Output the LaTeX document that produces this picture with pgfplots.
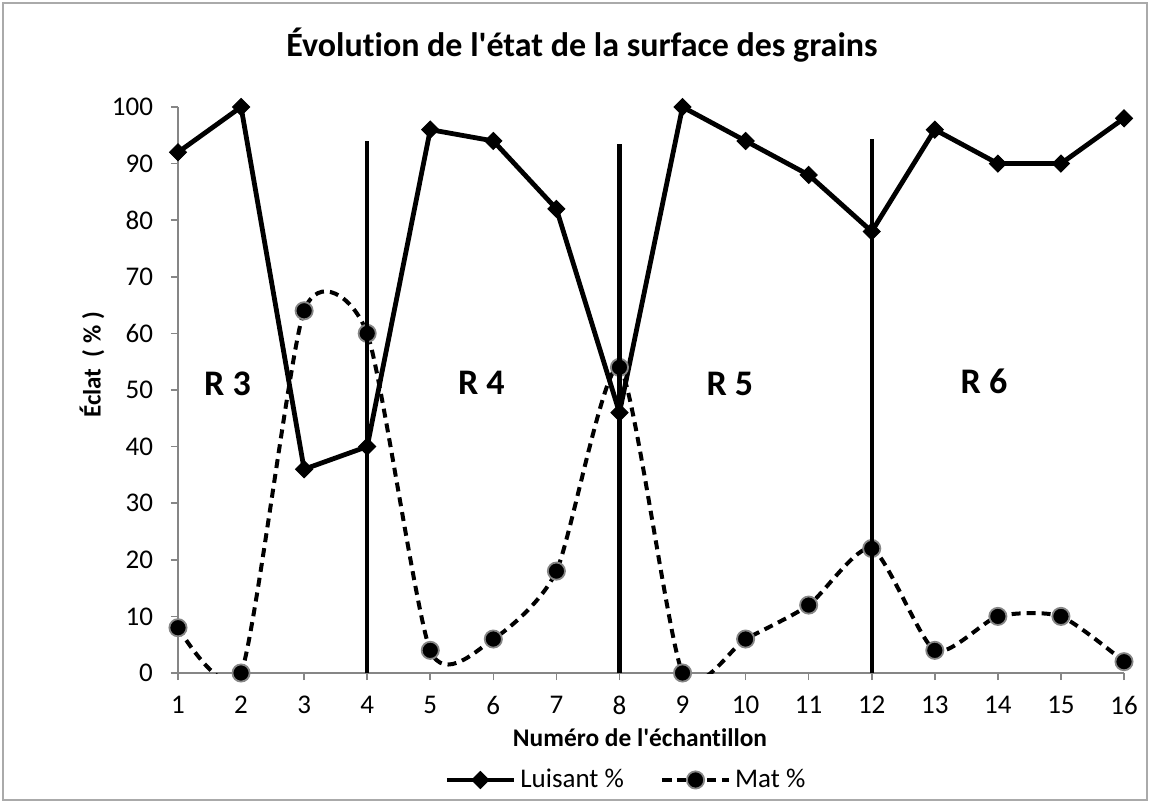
\documentclass[border=0pt]{standalone}
\usepackage{pgfplots}
\pgfplotsset{compat=1.18}
\usepackage{fontspec}
\setmainfont{Carlito}[Ligatures={NoCommon}]
\definecolor{axgray}{RGB}{134,134,134}
\definecolor{bordergray}{RGB}{170,170,170}
\begin{document}
\begin{tikzpicture}
\begin{axis}[
  scale only axis,
  width=473pt, height=283pt,
  xmin=1, xmax=16, ymin=0, ymax=100,
  axis x line=bottom, axis y line=left,
  axis line style={-, draw=axgray, line width=0.8pt},
  xtick={1,...,16}, ytick={0,10,...,100},
  tick align=outside, major tick length=3.5pt,
  tick style={draw=axgray, line width=0.8pt},
  /pgf/number format/assume math mode=true,
  tick label style={font=\fontsize{13.5}{15}\selectfont},
  xticklabel style={yshift=-4.5pt},
  yticklabel style={xshift=-5.5pt},
  clip mode=individual,
  legend style={at={(axis description cs:0.4745,-0.189)}, anchor=center, draw=none,
     font=\fontsize{13.5}{15}\selectfont, /tikz/every even column/.append style={column sep=16pt}},
  legend columns=2,
  legend image code/.code={\draw[mark repeat=2,mark phase=2] plot coordinates {(0cm,0cm)(0.59cm,0cm)(1.18cm,0cm)};},
]
\addplot[black, line width=2.4pt, mark=square*, mark size=3pt, mark options={solid, rotate=45, fill=black, draw=black, line width=0.5pt}]
 coordinates {(1,92)(2,100)(3,36)(4,40)(5,96)(6,94)(7,82)(8,46)(9,100)(10,94)(11,88)(12,78)(13,96)(14,90)(15,90)(16,98)};
\addlegendentry{Luisant \%}
\addplot[black, line width=2pt, dash pattern=on 4.5pt off 3pt, smooth, tension=0.4, mark=*, mark size=4.3pt, mark options={solid, fill=black, draw=axgray, line width=0.9pt}]
 coordinates {(1,8)(2,0)(3,64)(4,60)(5,4)(6,6)(7,18)(8,54)(9,0)(10,6)(11,12)(12,22)(13,4)(14,10)(15,10)(16,2)};
\addlegendentry{Mat \%}
\addplot[black, line width=2.2pt, forget plot] coordinates {(4,0)(4,94)};
\addplot[black, line width=2.2pt, forget plot] coordinates {(8,0)(8,93.5)};
\addplot[black, line width=2.2pt, forget plot] coordinates {(12,0)(12,94.3)};
\node[font=\bfseries\fontsize{18}{20}\selectfont] at (axis cs:1.785,51.1) {R 3};
\node[font=\bfseries\fontsize{18}{20}\selectfont] at (axis cs:5.81,51.3) {R 4};
\node[font=\bfseries\fontsize{18}{20}\selectfont] at (axis cs:9.75,51.05) {R 5};
\node[font=\bfseries\fontsize{18}{20}\selectfont] at (axis cs:13.78,51.6) {R 6};
\end{axis}
\node[font=\bfseries\fontsize{17}{19}\selectfont] at (202pt,314pt) {Évolution de l\textquotesingle état de la surface des grains};
\node[font=\bfseries\fontsize{12.5}{14}\selectfont, rotate=90] at (-43pt,154pt) {Éclat\ \ ( \% )};
\node[font=\bfseries\fontsize{12.7}{14}\selectfont] at (231pt,-32.5pt) {Numéro de l\textquotesingle échantillon};
\draw[bordergray, line width=0.8pt] (-87.6pt,-63.6pt) rectangle (484.6pt,335.1pt);
\useasboundingbox (-89pt,-65pt) rectangle (486pt,336.5pt);
\end{tikzpicture}
\end{document}
